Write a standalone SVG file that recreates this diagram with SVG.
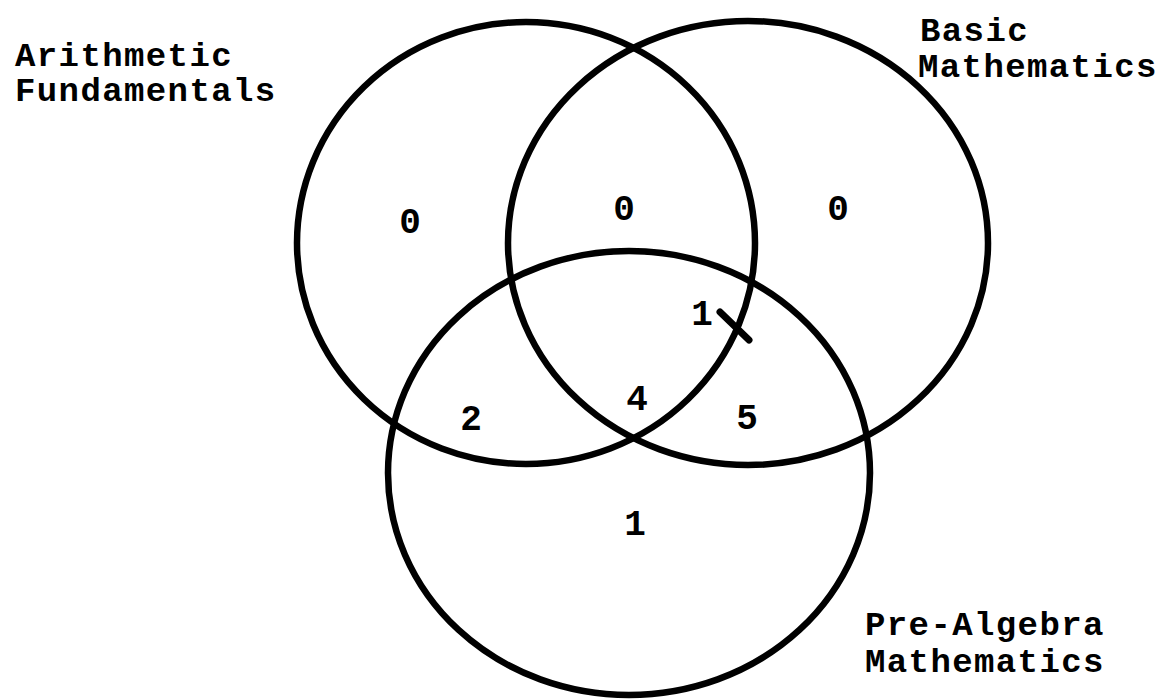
<svg xmlns="http://www.w3.org/2000/svg" width="1163" height="700" viewBox="0 0 1163 700">
<style>
.c{fill:none;stroke:#000;stroke-width:6.5}
.l{font-family:"Liberation Mono","Courier New",monospace;font-weight:bold;font-size:34px;letter-spacing:1.4px;fill:#000}
.n{font-family:"Liberation Mono","Courier New",monospace;font-weight:bold;font-size:36px;fill:#000;text-anchor:middle}
</style>
<rect width="1163" height="700" fill="#fff"/>
<g id="connectors"/>
<g id="arithmetic">
<ellipse class="c" cx="526" cy="243" rx="229" ry="221"/>
<text class="l" x="15" y="66">Arithmetic</text>
<text class="l" x="15" y="101">Fundamentals</text>
</g>
<g id="basic">
<ellipse class="c" cx="748" cy="243" rx="240" ry="222"/>
<text class="l" x="920" y="41">Basic</text>
<text class="l" x="918" y="77">Mathematics</text>
</g>
<g id="prealgebra">
<ellipse class="c" cx="629" cy="473" rx="241" ry="222"/>
<text class="l" x="865" y="635">Pre-Algebra</text>
<text class="l" x="865" y="672">Mathematics</text>
</g>
<g id="counts">
<text class="n" x="410" y="233">0</text>
<text class="n" x="624" y="220">0</text>
<text class="n" x="838" y="220">0</text>
<text class="n" x="702" y="325">1</text>
<text class="n" x="471" y="430">2</text>
<text class="n" x="637" y="410">4</text>
<text class="n" x="747" y="429">5</text>
<text class="n" x="635" y="535">1</text>
<line x1="720" y1="312" x2="749" y2="340" stroke="#000" stroke-width="7" stroke-linecap="round"/>
</g>
</svg>
